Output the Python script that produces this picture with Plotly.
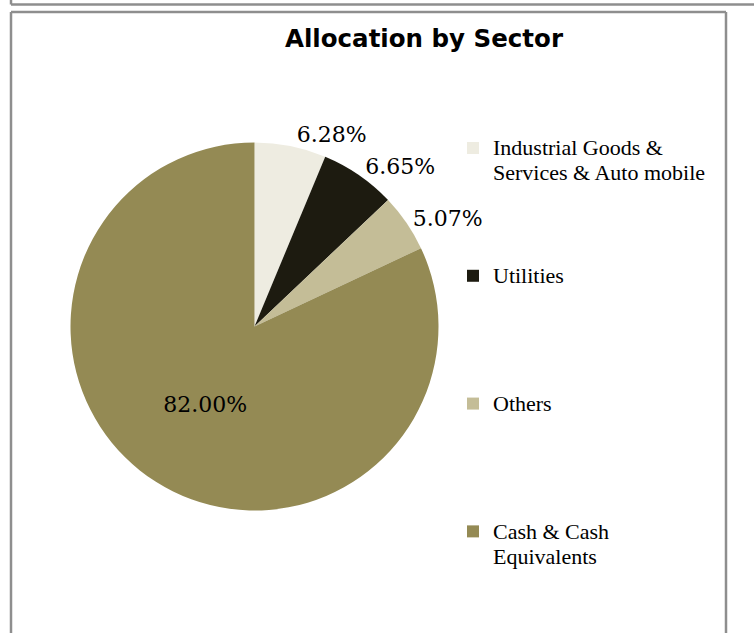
import plotly.graph_objects as go

# ---- data ----
sectors = ["Industrial Goods &<br>Services & Auto mobile", "Utilities", "Others",
           "Cash & Cash<br>Equivalents"]
weights = [6.28, 6.65, 5.07, 82.00]
colors = ["#EEECE1", "#1D1B10", "#C4BD97", "#948A54"]
title_text = "Allocation by Sector"

W, H = 754, 633

# legend text: visual font size inside span, padded lines for spacing (not the last)
LEG_LINES = 5
leg_labels = []
for i, name in enumerate(sectors):
    parts = name.split("<br>")
    lines = ['<span style="font-size:22px">%s</span>' % p for p in parts]
    if i < len(sectors) - 1:
        while len(lines) < LEG_LINES:
            lines.append("&nbsp;")
    leg_labels.append("<br>".join(lines))

cx, cy, r = 254.5, 326.5, 184

fig = go.Figure(go.Pie(
    labels=leg_labels,
    values=weights,
    sort=False,
    direction="clockwise",
    rotation=0,
    marker=dict(colors=colors, line=dict(width=0)),
    texttemplate="%{percent:.2%}",
    textposition=["outside", "outside", "outside", "inside"],
    textfont=dict(family="DejaVu Serif", size=22, color="#000000"),
    insidetextorientation="horizontal",
    domain=dict(x=[(cx - r) / W, (cx + r) / W], y=[(H - cy - r) / H, (H - cy + r) / H]),
    automargin=False,
    hoverinfo="label+percent",
))

shape_line = dict(color="#8E8E8E", width=2.5)
fig.update_layout(
    width=W, height=H,
    margin=dict(l=0, r=0, t=0, b=0),
    paper_bgcolor="white",
    plot_bgcolor="white",
    title=dict(text=title_text, x=424 / W, y=1 - 38 / H, xanchor="center", yanchor="middle",
               font=dict(family="DejaVu Sans", size=24.5, color="#000000", weight="bold")),
    showlegend=True,
    legend=dict(x=453 / W, y=1 - 129 / H, xanchor="left", yanchor="top",
                font=dict(family="Liberation Serif", size=19.2, color="#000000"),
                valign="top", bgcolor="rgba(0,0,0,0)", traceorder="normal"),
    shapes=[
        dict(type="line", xref="paper", yref="paper", x0=11 / W, x1=1.0, y0=1 - 4.5 / H, y1=1 - 4.5 / H, line=shape_line),
        dict(type="line", xref="paper", yref="paper", x0=11 / W, x1=11 / W, y0=1 - 4.5 / H, y1=1.0, line=shape_line),
        dict(type="line", xref="paper", yref="paper", x0=11 / W, x1=726 / W, y0=1 - 12 / H, y1=1 - 12 / H, line=shape_line),
        dict(type="line", xref="paper", yref="paper", x0=11 / W, x1=11 / W, y0=0, y1=1 - 12 / H, line=shape_line),
        dict(type="line", xref="paper", yref="paper", x0=726 / W, x1=726 / W, y0=0, y1=1 - 12 / H, line=shape_line),
    ],
)

fig.write_html("out.html", config={"displayModeBar": False},
               post_script="document.body.style.margin='0px';")
